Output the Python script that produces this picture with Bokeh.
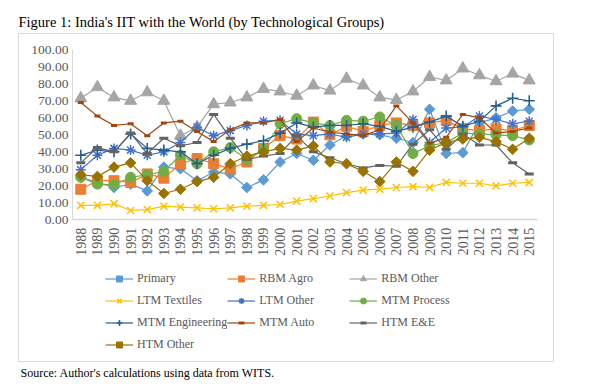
import math
from bokeh.plotting import figure
from bokeh.models import (Legend, LegendItem, Title, Range1d,
                          NumeralTickFormatter, FixedTicker)
from bokeh.embed import file_html
from bokeh.resources import INLINE

years = list(range(1988, 2016))

primary = [25, 22, 19, 21, 17, 31, 30, 23, 28, 27, 19, 23.5, 34, 39, 35, 44, 49.5,
           50.5, 50, 48, 45.5, 65, 39, 39.5, 57, 60, 64, 65]
rbm_agro = [18, 23, 23, 22, 27, 24.5, 33, 36, 33, 30, 34, 42, 49.5, 47.5, 57.5, 50,
            55, 52, 55.5, 57, 55.5, 57, 58.5, 53.5, 52.5, 53.5, 52.5, 55.5]
rbm_other = [71.5, 78, 72, 70, 75, 70, 49.5, 54.5, 68, 69, 72, 77, 75.5, 73, 79, 76,
             83, 79, 72, 70.5, 75.5, 84, 82, 89, 85, 81.5, 86, 82]
ltm_textiles = [8.5, 8.5, 9.5, 5.5, 6, 8, 7.5, 7, 6.5, 7, 8, 8.5, 9, 11, 12.5, 14,
                16, 17.5, 18, 19, 19.5, 19, 22, 21.5, 21.5, 20, 21.5, 22]
ltm_other = [29.5, 38, 42, 41, 38, 40, 45.5, 54.5, 49.5, 52.5, 55.5, 58, 58.5, 50.5,
             49.5, 50.5, 48.5, 50.5, 50.5, 51, 59, 45.5, 54, 54.5, 61, 59, 56.5, 58]
mtm_process = [25, 21, 20.5, 25, 26.5, 28.5, 38, 33, 40, 42.5, 35.5, 41.5, 56.5,
               59.5, 57, 55.5, 58.5, 58, 60.5, 55.5, 39, 43.5, 45.5, 51, 50.5, 50,
               49.5, 47]
mtm_engineering = [38, 41, 40, 50.5, 42, 41, 40, 33, 38, 42, 44.5, 46.5, 51, 57,
                   54.5, 55.5, 55.5, 56.5, 55, 52, 54.5, 57.5, 61, 55, 58, 67,
                   71.5, 70]
mtm_auto = [69, 61, 55.5, 56.5, 49.5, 57, 58, 52, 46, 53, 57, 57, 59, 46, 54, 51.5,
            50.5, 49.5, 53, 67, 57, 45, 48.5, 62, 60, 51, 52, 54]
htm_ee = [33.5, 42.5, 40, 51, 39, 48, 43.5, 45.5, 62, 48, 35.5, 37.5, 39, 49.5, 40,
          36.5, 33, 30.5, 32, 31.5, 44.5, 53, 41.5, 50.5, 44, 44, 33.5, 27]
htm_other = [26.5, 25.5, 31, 33.5, 23, 15.5, 18, 22.5, 25, 33, 37.5, 40, 42, 41,
             43.5, 34, 33, 28.5, 22.5, 34, 28.5, 41, 45.5, 47.5, 48.5, 46, 41.5, 48]

y_ticks = list(range(0, 101, 10))

# name, values, colour, marker, size, angle, marker line width
series = [
    ("Primary", primary, "#5B9BD5", "square", 7.5, math.pi / 4, 1),
    ("RBM Agro", rbm_agro, "#ED7D31", "square", 10, 0, 1),
    ("RBM Other", rbm_other, "#A5A5A5", "triangle", 12, 0, 1),
    ("LTM Textiles", ltm_textiles, "#FFC000", "x", 10, 0, 1.5),
    ("LTM Other", ltm_other, "#4472C4", "asterisk", 10, 0, 1.5),
    ("MTM Process", mtm_process, "#70AD47", "circle", 10, 0, 1),
    ("MTM Engineering", mtm_engineering, "#255E91", "cross", 11, 0, 1.6),
    ("MTM Auto", mtm_auto, "#9E480E", "dash", 6, 0, 3),
    ("HTM E&E", htm_ee, "#636363", "dash", 9, 0, 3),
    ("HTM Other", htm_other, "#997300", "square", 7.5, math.pi / 4, 1),
]

SERIF = "Liberation Serif"
GREY_TXT = "#595959"

# the frame is the light grey chart box; the data area sits inside it
p = figure(width=573, height=383,
           x_range=Range1d(1984.25, 2016.46), y_range=Range1d(-83.35, 109.6),
           output_backend="svg", toolbar_location=None,
           min_border_left=18, min_border_right=20, min_border_top=33,
           min_border_bottom=22)
p.outline_line_color = "#D9D9D9"
p.outline_line_width = 1
p.xgrid.grid_line_color = None
p.ygrid.grid_line_color = None

p.title = Title(text="Figure 1: India's IIT with the World (by Technological Groups)",
                align="left", offset=0, standoff=7, text_font=SERIF,
                text_font_size="14.5px", text_font_style="normal", text_color="black")
p.add_layout(Title(text="Source: Author's calculations using data from WITS.",
                   align="left", offset=2, standoff=4, text_font=SERIF,
                   text_font_size="12px", text_font_style="normal",
                   text_color="black"), "below")

p.yaxis.fixed_location = 1987.5
p.yaxis.bounds = (0, 100)
p.yaxis.ticker = FixedTicker(ticks=y_ticks)
p.yaxis.formatter = NumeralTickFormatter(format="0.00")
p.yaxis.major_label_text_font = SERIF
p.yaxis.major_label_text_font_size = "13.5px"
p.yaxis.major_label_text_color = GREY_TXT
p.yaxis.axis_line_color = "#D9D9D9"
p.yaxis.major_tick_line_color = None
p.yaxis.minor_tick_line_color = None
p.yaxis.major_tick_out = 0
p.yaxis.major_tick_in = 0
p.yaxis.major_label_standoff = 4

p.xaxis.fixed_location = 0
p.xaxis.bounds = (1987.5, 2015.5)
p.xaxis.ticker = FixedTicker(ticks=years)
p.xaxis.major_label_orientation = math.pi / 2
p.xaxis.major_label_text_font = SERIF
p.xaxis.major_label_text_font_size = "14px"
p.xaxis.major_label_text_color = GREY_TXT
p.xaxis.axis_line_color = "#D9D9D9"
p.xaxis.axis_line_width = 1.5
p.xaxis.major_tick_line_color = None
p.xaxis.minor_tick_line_color = None
p.xaxis.major_tick_out = 0
p.xaxis.major_tick_in = 0
p.xaxis.major_label_standoff = 8

items = []
for name, vals, color, marker, size, angle, lw in series:
    lr = p.line(years, vals, line_color=color, line_width=1.2)
    sr = p.scatter(years, vals, marker=marker, size=size, angle=angle,
                   fill_color=color, line_color=color, line_width=lw)
    items.append(LegendItem(label=name, renderers=[lr, sr]))

legend = Legend(items=items, orientation="horizontal", ncols=3,
                location=(87, 6), glyph_width=28, glyph_height=15,
                label_height=22, label_width=90, label_standoff=4, spacing=0,
                padding=0, margin=0, border_line_color=None,
                background_fill_alpha=0,
                label_text_font=SERIF, label_text_font_size="12px",
                label_text_color=GREY_TXT)
p.add_layout(legend, "center")

open("out.html", "w").write(file_html(p, INLINE))
